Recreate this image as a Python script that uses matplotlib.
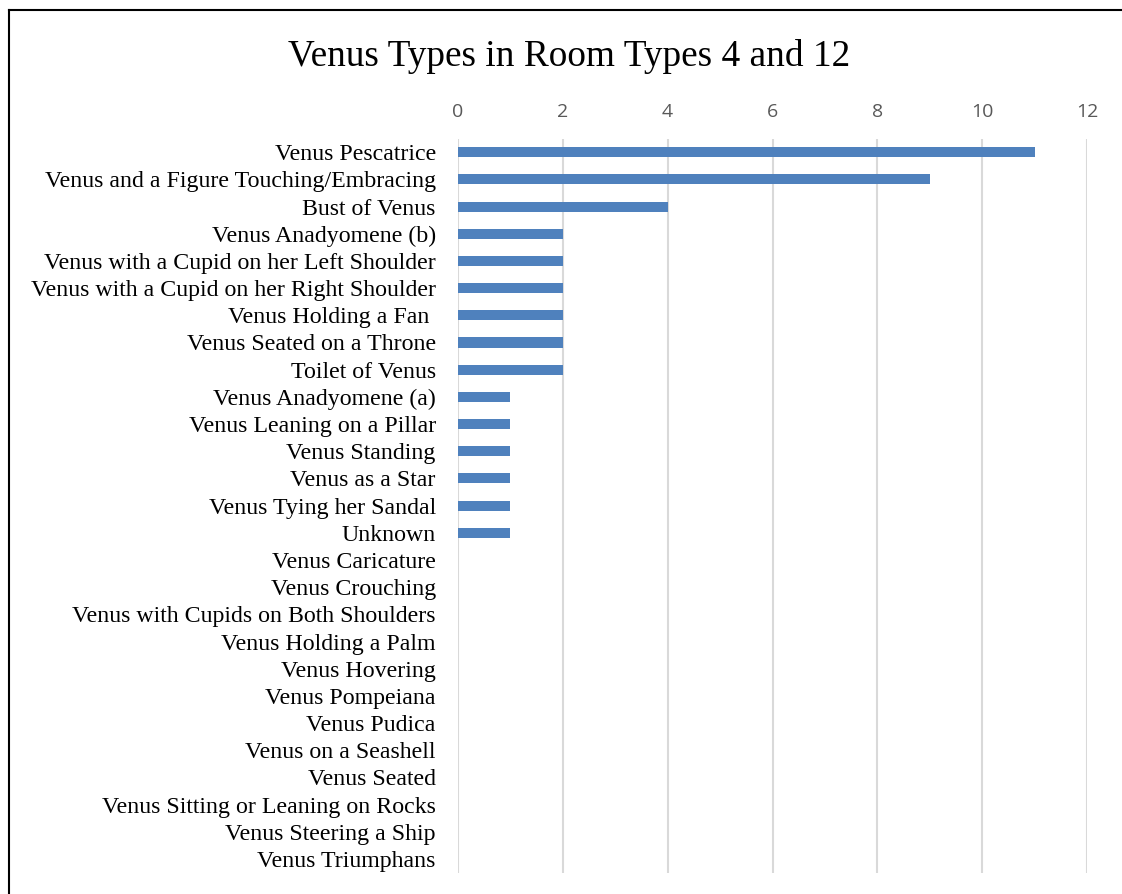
import matplotlib
matplotlib.use("Agg")
import matplotlib.pyplot as plt
from matplotlib.lines import Line2D

categories = [
    "Venus Pescatrice", "Venus and a Figure Touching/Embracing", "Bust of Venus",
    "Venus Anadyomene (b)", "Venus with a Cupid on her Left Shoulder",
    "Venus with a Cupid on her Right Shoulder", "Venus Holding a Fan ",
    "Venus Seated on a Throne", "Toilet of Venus", "Venus Anadyomene (a)",
    "Venus Leaning on a Pillar", "Venus Standing", "Venus as a Star",
    "Venus Tying her Sandal", "Unknown", "Venus Caricature", "Venus Crouching",
    "Venus with Cupids on Both Shoulders", "Venus Holding a Palm", "Venus Hovering",
    "Venus Pompeiana", "Venus Pudica", "Venus on a Seashell", "Venus Seated",
    "Venus Sitting or Leaning on Rocks", "Venus Steering a Ship", "Venus Triumphans",
]
counts = [11, 9, 4, 2, 2, 2, 2, 2, 2, 1, 1, 1, 1, 1, 1,
          0, 0, 0, 0, 0, 0, 0, 0, 0, 0, 0, 0]
x_ticks = [0, 2, 4, 6, 8, 10, 12]

W, H = 1122, 894
fig = plt.figure(figsize=(W / 100, H / 100), dpi=100)
ax = fig.add_axes([458 / W, 1 - 872.6 / H, (1087 - 458) / W, (872.6 - 138.6) / H])

y = list(range(len(categories)))
ax.barh(y, counts, height=0.37, color="#4F81BD", zorder=3)
ax.set_ylim(len(categories) - 0.5, -0.5)
ax.set_xlim(0, 12)
ax.set_yticks(y)
ax.set_yticklabels(categories, family="Liberation Serif", fontsize=17.2, color="black")
ax.set_xticks(x_ticks)
ax.set_xticklabels([str(t) for t in x_ticks], family="Open Sans", fontsize=14, color="#595959")
ax.xaxis.tick_top()
ax.tick_params(axis="x", length=0, pad=13)
ax.tick_params(axis="y", length=0, pad=16)
ax.grid(axis="x", color="#d9d9d9", lw=1.5, zorder=0)
for s in ax.spines.values():
    s.set_visible(False)

fig.text(569 / W, 1 - 56 / H, "Venus Types in Room Types 4 and 12", ha="center", va="center",
         family="Liberation Serif", fontsize=26.8)

# chart frame (cropped at right and bottom)
fig.add_artist(Line2D([9 / W, 9 / W], [0, 1 - 10 / H], transform=fig.transFigure, color="black", lw=1.5))
fig.add_artist(Line2D([9 / W, 1], [1 - 10 / H, 1 - 10 / H], transform=fig.transFigure, color="black", lw=1.5))

fig.savefig("out.png", dpi=100)
